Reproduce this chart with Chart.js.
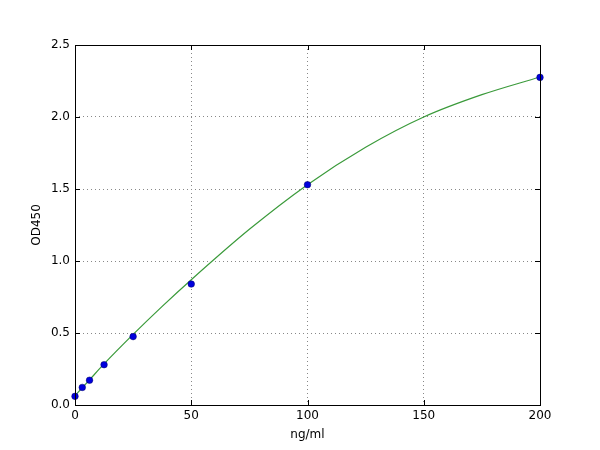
<!DOCTYPE html>
<html><head><meta charset="utf-8">
<script src="https://cdn.jsdelivr.net/npm/chart.js@4"></script>
<style>html,body{margin:0;padding:0;background:#fff}#wrap{width:600px;height:450px}</style>
</head><body><div id="wrap"><canvas id="c" width="600" height="450"></canvas></div>
<script>
const stdX = [0, 3.125, 6.25, 12.5, 25, 50, 100, 200];
const stdY = [0.06, 0.122, 0.172, 0.28, 0.475, 0.84, 1.53, 2.275];
const fitX = [0, 6.25, 12.5, 25, 37.5, 50, 75, 100, 125, 150, 175, 200];
const fitY = [0.065, 0.175, 0.285, 0.49, 0.685, 0.87, 1.22, 1.53, 1.79, 2.0, 2.155, 2.278];
const xTicks = [0, 50, 100, 150, 200];
const yTicks = [0.0, 0.5, 1.0, 1.5, 2.0, 2.5];
const xTitle = 'ng/ml';
const yTitle = 'OD450';

const FONT = 'DejaVu Sans';
const frame = {
  id: 'frame',
  afterDraw(chart) {
    const {ctx, chartArea: a, scales: {x, y}} = chart;
    ctx.save();
    ctx.strokeStyle = '#000';
    ctx.lineWidth = 1;
    ctx.beginPath();
    xTicks.forEach(v => {
      const px = Math.round(x.getPixelForValue(v)) + 0.5;
      ctx.moveTo(px, a.bottom); ctx.lineTo(px, a.bottom - 5);
      ctx.moveTo(px, a.top); ctx.lineTo(px, a.top + 5);
    });
    yTicks.forEach(v => {
      const py = Math.round(y.getPixelForValue(v)) + 0.5;
      ctx.moveTo(a.left, py); ctx.lineTo(a.left + 5, py);
      ctx.moveTo(a.right, py); ctx.lineTo(a.right - 5, py);
    });
    ctx.stroke();
    ctx.strokeRect(Math.round(a.left) + 0.5, Math.round(a.top) + 0.5, Math.round(a.right - a.left), Math.round(a.bottom - a.top));
    ctx.restore();
  }
};

new Chart(document.getElementById('c'), {
  type: 'scatter',
  data: {
    datasets: [
      {
        label: 'fit',
        type: 'line',
        data: fitX.map((v, i) => ({x: v, y: fitY[i]})),
        borderColor: '#3a9a3a',
        borderWidth: 1.2,
        pointRadius: 0,
        cubicInterpolationMode: 'monotone',
        fill: false,
        order: 2
      },
      {
        label: 'std',
        data: stdX.map((v, i) => ({x: v, y: stdY[i]})),
        backgroundColor: '#0000dd',
        borderColor: '#000066',
        borderWidth: 0.5,
        pointRadius: 3.3,
        order: 1,
        clip: false
      }
    ]
  },
  options: {
    responsive: false,
    animation: false,
    devicePixelRatio: 1,
    layout: {padding: {left: 30, right: 60, top: 45, bottom: 0}},
    plugins: {legend: {display: false}, tooltip: {enabled: false}},
    scales: {
      x: {
        type: 'linear', min: 0, max: 200,
        afterBuildTicks: s => { s.ticks = xTicks.map(v => ({value: v})); },
        afterFit: s => { s.height = 45; },
        ticks: {color: '#000', font: {family: FONT, size: 12}, padding: 4, maxRotation: 0, callback: v => String(v)},
        grid: {color: '#888', lineWidth: 1, drawTicks: false},
        border: {display: false, dash: [1, 3]},
        title: {display: true, text: xTitle, color: '#000', font: {family: FONT, size: 12}, padding: {top: 0, bottom: 8}}
      },
      y: {
        type: 'linear', min: 0, max: 2.5,
        afterBuildTicks: s => { s.ticks = yTicks.map(v => ({value: v})); },
        afterFit: s => { s.width = 45; },
        ticks: {color: '#000', font: {family: FONT, size: 12}, padding: 5, callback: v => Number(v).toFixed(1)},
        grid: {color: '#888', lineWidth: 1, drawTicks: false},
        border: {display: false, dash: [1, 3]},
        title: {display: true, text: yTitle, color: '#000', font: {family: FONT, size: 12}, padding: {top: 0, bottom: 0}}
      }
    }
  },
  plugins: [frame]
});
</script>
</body></html>
